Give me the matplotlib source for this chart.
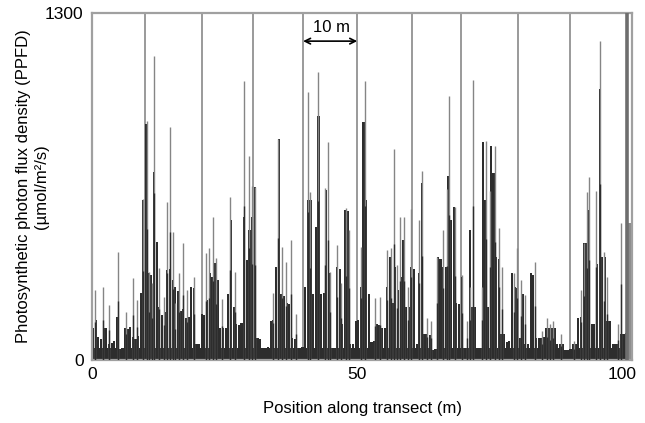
import numpy as np
import matplotlib
matplotlib.use('Agg')
import matplotlib.pyplot as plt

plt.rcParams['font.family'] = ['Liberation Sans', 'DejaVu Sans']

# dark "floor" of the light record, one value per 0.5 m bin starting at 0 m
base_ppfd = [
    120, 150, 85, 80, 120, 120, 60, 65, 70, 160,
    40, 45, 120, 115, 125, 85, 80, 90, 250, 600,
    885, 325, 320, 703, 442, 200, 170, 180, 336, 340,
    300, 272, 260, 185, 190, 159, 160, 272, 270, 60,
    60, 174, 170, 223, 325, 310, 363, 300, 121, 121,
    120, 249, 525, 200, 136, 130, 140, 537, 374, 489,
    537, 650, 83, 80, 45, 45, 50, 147, 150, 348,
    828, 249, 240, 212, 210, 83, 80, 45, 45, 50,
    272, 600, 600, 249, 500, 915, 249, 250, 638, 325,
    45, 45, 348, 340, 136, 563, 560, 60, 60, 147,
    150, 272, 892, 600, 249, 68, 70, 136, 130, 121,
    120, 272, 385, 212, 348, 261, 310, 450, 200, 200,
    348, 340, 60, 325, 665, 98, 98, 95, 38, 40,
    385, 380, 348, 350, 688, 525, 575, 212, 210, 310,
    45, 45, 488, 200, 200, 45, 45, 817, 600, 200,
    802, 700, 385, 380, 98, 98, 68, 70, 325, 272,
    270, 83, 249, 60, 60, 325, 320, 83, 83, 83,
    85, 121, 120, 121, 120, 60, 60, 60, 38, 38,
    40, 60, 60, 159, 160, 438, 440, 563, 136, 136,
    360, 1017, 385, 385, 147, 147, 60, 60, 60, 98,
    98, 100,
]
bin_width = 0.5
floor_level = 45  # solid dark band at the bottom of the record

# sunflecks: narrow peaks (position m, PPFD)
spike_pos = [
    0.6, 2.1, 3.2, 4.9, 6.4, 7.8, 8.5, 9.6, 10.4, 10.8,
    11.4, 11.7, 12.6, 13.6, 14.2, 14.7, 15.2, 15.7, 16.5, 17.2,
    17.9, 19.2, 21.5, 22.1, 22.8, 23.4, 24.6, 26.1, 27.0, 28.7,
    29.6, 30.2, 30.8, 34.1, 35.1, 35.8, 36.6, 37.5, 38.4, 40.7,
    41.1, 42.6, 44.0, 44.5, 44.9, 46.2, 46.9, 47.9, 48.5, 50.7,
    51.4, 53.3, 54.3, 55.7, 56.4, 56.9, 57.5, 58.1, 58.9, 59.6,
    60.1, 61.6, 62.3, 63.1, 63.9, 65.0, 66.2, 66.9, 67.4, 68.5,
    69.7, 70.7, 71.2, 71.8, 73.5, 74.3, 75.1, 75.9, 76.8, 77.3,
    79.5, 80.2, 80.9, 81.7, 83.5, 84.8, 85.7, 86.3, 87.0, 88.4,
    90.8, 92.1, 92.7, 93.3, 93.7, 95.1, 95.7, 96.5, 97.1, 99.2,
    99.8,
]
spike_ppfd = [
    261, 273, 205, 405, 178, 307, 224, 603, 894, 330,
    287, 1141, 345, 235, 591, 875, 481, 212, 325, 440,
    261, 311, 400, 420, 537, 382, 230, 612, 330, 1046,
    765, 652, 650, 250, 830, 424, 367, 450, 174, 1006,
    628, 1081, 646, 817, 330, 431, 287, 571, 488, 424,
    1046, 231, 235, 412, 420, 790, 355, 537, 537, 272,
    565, 525, 707, 159, 147, 386, 488, 639, 990, 575,
    318, 147, 272, 1050, 272, 822, 633, 803, 496, 349,
    325, 420, 300, 243, 367, 110, 159, 136, 147, 98,
    72, 261, 438, 628, 684, 633, 1196, 405, 311, 136,
    515,
]

# 10 m markers along the transect
marker_pos = [10.0, 20.8, 30.4, 39.8, 50.0, 60.3, 69.5, 80.3, 90.1]
end_marker = 100.8
edge_pos, edge_ppfd = 101.1, 515

fig = plt.figure(figsize=(6.45, 4.23), dpi=100)
ax = fig.add_axes([0.1426, 0.149, 0.838, 0.82])

base_x = np.arange(len(base_ppfd)) * bin_width
edges = np.arange(len(base_ppfd) + 1) * bin_width
ax.bar(base_x, base_ppfd, width=bin_width * 0.8, align='edge', color='#2d2d2d', linewidth=0, zorder=2)
ax.stairs(np.minimum(base_ppfd, floor_level), edges, fill=True, color='#2d2d2d', zorder=2)
ax.vlines(spike_pos, 0, spike_ppfd, color='#858585', linewidth=1.0, zorder=3)
ax.vlines(spike_pos, 0, np.array(spike_ppfd) * 0.55, color='#2d2d2d', linewidth=1.0, zorder=3)
ax.bar(edge_pos, edge_ppfd, width=0.9, align='edge', color='#8c8c8c', linewidth=0, zorder=2)

for m in marker_pos:
    ax.axvline(m, color='#9a9a9a', linewidth=1.4, zorder=1)
ax.axvline(end_marker, color='#6e6e6e', linewidth=2.6, zorder=4)

# 10 m scale bracket
ax.annotate('', xy=(marker_pos[3], 1195), xytext=(marker_pos[4], 1195),
            arrowprops=dict(arrowstyle='<->', color='black', lw=1.2, shrinkA=0, shrinkB=0))
ax.text((marker_pos[3] + marker_pos[4]) / 2 + 0.2, 1245, '10 m', ha='center', va='center', fontsize=12)

ax.set_xlim(0, 101.9)
ax.set_ylim(0, 1300)
ax.set_xticks([0, 50, 100])
ax.set_yticks([0, 1300])
ax.tick_params(length=0, labelsize=12.5, pad=6)
ax.tick_params(axis='x', pad=5)
for s in ax.spines.values():
    s.set_color('#a0a0a0')
    s.set_linewidth(1.6)

ax.set_xlabel('Position along transect (m)', fontsize=12, labelpad=14)
ax.set_ylabel('Photosynthetic photon flux density (PPFD)\n(\u00b5mol/m\u00b2/s)', fontsize=12,
              labelpad=-3, linespacing=1.25)

fig.savefig('out.png', dpi=100)
